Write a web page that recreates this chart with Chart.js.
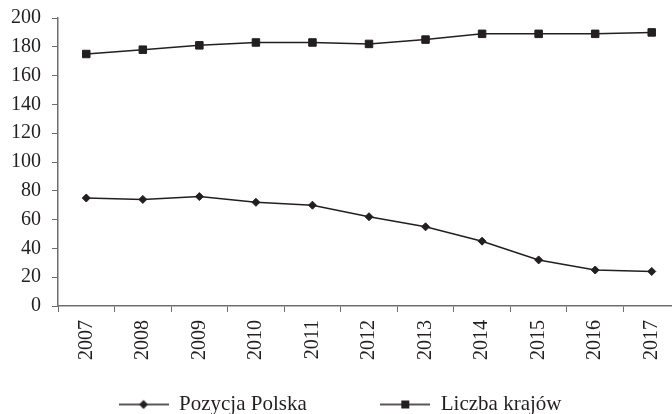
<!DOCTYPE html>
<html>
<head>
<meta charset="utf-8">
<script src="https://cdn.jsdelivr.net/npm/chart.js@4"></script>
<style>
  html, body { margin: 0; padding: 0; background: #fff; overflow: hidden; }
  #wrap { width: 700px; height: 430px; margin-top: -5px; }
</style>
</head>
<body>
<div id="wrap"><canvas id="chart" width="700" height="430"></canvas></div>
<script>
// data
const years = ['2007', '2008', '2009', '2010', '2011', '2012', '2013', '2014', '2015', '2016', '2017'];
const pozycjaPolska = [75, 74, 76, 72, 70, 62, 55, 45, 32, 25, 24];
const liczbaKrajow = [175, 178, 181, 183, 183, 182, 185, 189, 189, 189, 190];
const yTicks = [0, 20, 40, 60, 80, 100, 120, 140, 160, 180, 200];

const ink = '#231f20';
const axisColor = '#6e6e6e';
const serif = 'Liberation Serif, Times New Roman, serif';

// small canvas used as legend symbol: a line with the marker in the middle
function legendSymbol(kind) {
    const c = document.createElement('canvas');
    c.width = 50;
    c.height = 12;
    const g = c.getContext('2d');
    g.strokeStyle = ink;
    g.lineWidth = 1.5;
    g.beginPath();
    g.moveTo(0, 6);
    g.lineTo(50, 6);
    g.stroke();
    g.fillStyle = ink;
    g.beginPath();
    if (kind === 'diamond') {
        g.moveTo(25, 1.5);
        g.lineTo(29.5, 6);
        g.lineTo(25, 10.5);
        g.lineTo(20.5, 6);
        g.closePath();
    } else {
        g.rect(21, 2, 8, 8);
    }
    g.fill();
    return c;
}

const symbols = [legendSymbol('diamond'), legendSymbol('square')];

const ctx = document.getElementById('chart').getContext('2d');
new Chart(ctx, {
    type: 'line',
    data: {
        labels: years,
        datasets: [{
            label: 'Pozycja Polska',
            data: pozycjaPolska,
            borderColor: ink,
            backgroundColor: ink,
            borderWidth: 1.5,
            pointStyle: 'rectRot',
            pointRadius: 4,
            pointBorderWidth: 1,
            tension: 0
        }, {
            label: 'Liczba krajów',
            data: liczbaKrajow,
            borderColor: ink,
            backgroundColor: ink,
            borderWidth: 1.5,
            pointStyle: 'rect',
            pointRadius: 5.3,
            pointBorderWidth: 1,
            tension: 0
        }]
    },
    options: {
        responsive: false,
        animation: false,
        devicePixelRatio: 1,
        layout: { padding: { top: 4, left: 0, right: 20, bottom: 0 } },
        plugins: {
            tooltip: { enabled: false },
            legend: {
                position: 'bottom',
                labels: {
                    usePointStyle: true,
                    pointStyleWidth: 50,
                    padding: 0,
                    color: ink,
                    font: { family: serif, size: 21 },
                    generateLabels: function (chart) {
                        const items = Chart.defaults.plugins.legend.labels.generateLabels(chart);
                        items.forEach((it, i) => {
                            it.pointStyle = symbols[i];
                            // extra room between the two legend entries
                            if (i === 0) it.text = it.text + '\u2003\u2003\u2003\u2002';
                        });
                        return items;
                    }
                }
            }
        },
        scales: {
            x: {
                offset: true,
                afterFit: function (axis) {
                    axis.height += 26;
                },
                grid: {
                    offset: true,
                    drawOnChartArea: false,
                    drawTicks: true,
                    tickLength: 6,
                    color: axisColor
                },
                border: { color: axisColor, width: 1.5 },
                ticks: {
                    color: ink,
                    font: { family: serif, size: 20 },
                    minRotation: 90,
                    maxRotation: 90,
                    padding: 8
                }
            },
            y: {
                min: yTicks[0],
                max: yTicks[yTicks.length - 1],
                afterBuildTicks: function (axis) {
                    axis.ticks = yTicks.map(v => ({ value: v }));
                },
                grid: {
                    drawOnChartArea: false,
                    drawTicks: true,
                    tickLength: 6,
                    color: axisColor
                },
                border: { color: axisColor, width: 1.5 },
                ticks: {
                    color: ink,
                    font: { family: serif, size: 20 },
                    padding: 11
                }
            }
        }
    }
});
</script>
</body>
</html>
